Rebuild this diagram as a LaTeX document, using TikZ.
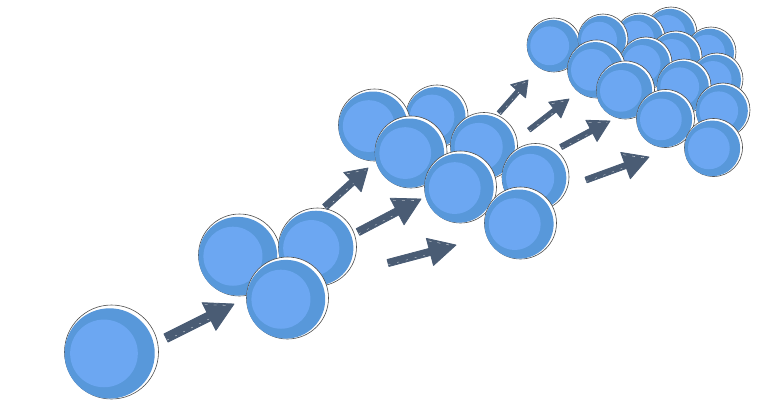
\documentclass[tikz,border=0pt]{standalone}
\usetikzlibrary{positioning,calc}
\definecolor{discblue}{HTML}{5898DA}
\definecolor{coreblue}{HTML}{6CA7F2}
\definecolor{slate}{HTML}{4A5C74}
% tail, tip, head length, head half width, shaft half width
\newcommand{\sketcharrow}[5]{
\path[arrowbody]
($(#1)!#5!90:(#2)$) --
($(#2)!#3!(#1)!#5!-90:(#1)$) --
($(#2)!#3!(#1)!#4!-90:(#1)$) --
(#2) --
($(#2)!#3!(#1)!#4!90:(#1)$) --
($(#2)!#3!(#1)!#5!90:(#1)$) --
($(#1)!#5!-90:(#2)$) -- cycle;
\draw[arrowscratch] ($(#1)!.5*#5!-90:(#2)$) -- ($(#2)!#3!(#1)!.5*#5!90:(#1)$);
\draw[arrowedge] ($(#2)!#3-1.5pt!(#1)!#4-3pt!-90:(#1)$) -- ($(#2)!3pt!(#1)$);
}
\begin{document}
\begin{tikzpicture}
[x=1pt,y=-1pt,
%
bubble/.style={shape=circle,draw=black!70,fill=white,line width=.6pt,inner sep=0pt,outer sep=0pt},
arrowbody/.style={fill=slate,draw=slate,line width=.8pt,line join=round},
arrowscratch/.style={white,line width=.25pt,dash pattern=on 2pt off 7pt},
arrowedge/.style={white,line width=.3pt,dash pattern=on 3pt off 6pt}]
%
\useasboundingbox (0,0) rectangle (768,420);
%
% bubbles, back to front
\foreach \name/\x/\y/\r in {
a1/111.5/352/47,
%
b1/239.5/255/41,b2/317.5/247/39,b3/287.5/298/41,
%
c1/437/116/31,c2/374.5/125/36,c3/411/152/36,c4/484/146/33.5,c5/535.5/177/33.5,c6/460.5/187/36,c7/520.5/223/36,
%
d1/554/45/27,d2/671/33/26,d3/640/38/25,d4/603/39/25,d5/711/52/25,d6/676/57/26,d7/646/63/26,
d8/596.5/69/29,d9/717/79/26,d10/684/86/27,d11/625.5/90/29,d12/723/110/27,d13/665.5/118.5/29,d14/713.5/147.5/29}
{
\node (\name) [bubble,minimum size=2*\r pt] at (\x,\y) {};
\fill[discblue] (\x-.04*\r,\y+.03*\r) circle ({.96*\r});
\fill[coreblue] (\x-.16*\r,\y+.03*\r) circle ({.72*\r});
}
%
% arrows
\coordinate (t1) at (166,338); \coordinate (h1) at (234,304);
\coordinate (t2) at (325,207); \coordinate (h2) at (368,168);
\coordinate (t3) at (358,232); \coordinate (h3) at (421,199);
\coordinate (t4) at (388,263); \coordinate (h4) at (456,245);
\coordinate (t5) at (499,113); \coordinate (h5) at (528,80);
\coordinate (t6) at (529,130); \coordinate (h6) at (569,99);
\coordinate (t7) at (561,147); \coordinate (h7) at (610,121);
\coordinate (t8) at (586,180); \coordinate (h8) at (649,157);
%
\sketcharrow{t1}{h1}{28pt}{15.5pt}{4.6pt}
\sketcharrow{t2}{h2}{21pt}{13pt}{3.4pt}
\sketcharrow{t3}{h3}{27pt}{15pt}{3.8pt}
\sketcharrow{t4}{h4}{27pt}{14pt}{3.6pt}
\sketcharrow{t5}{h5}{15pt}{10pt}{2.4pt}
\sketcharrow{t6}{h6}{18pt}{10pt}{2.4pt}
\sketcharrow{t7}{h7}{21pt}{12pt}{2.8pt}
\sketcharrow{t8}{h8}{25pt}{14pt}{3pt}
\end{tikzpicture}
\end{document}
